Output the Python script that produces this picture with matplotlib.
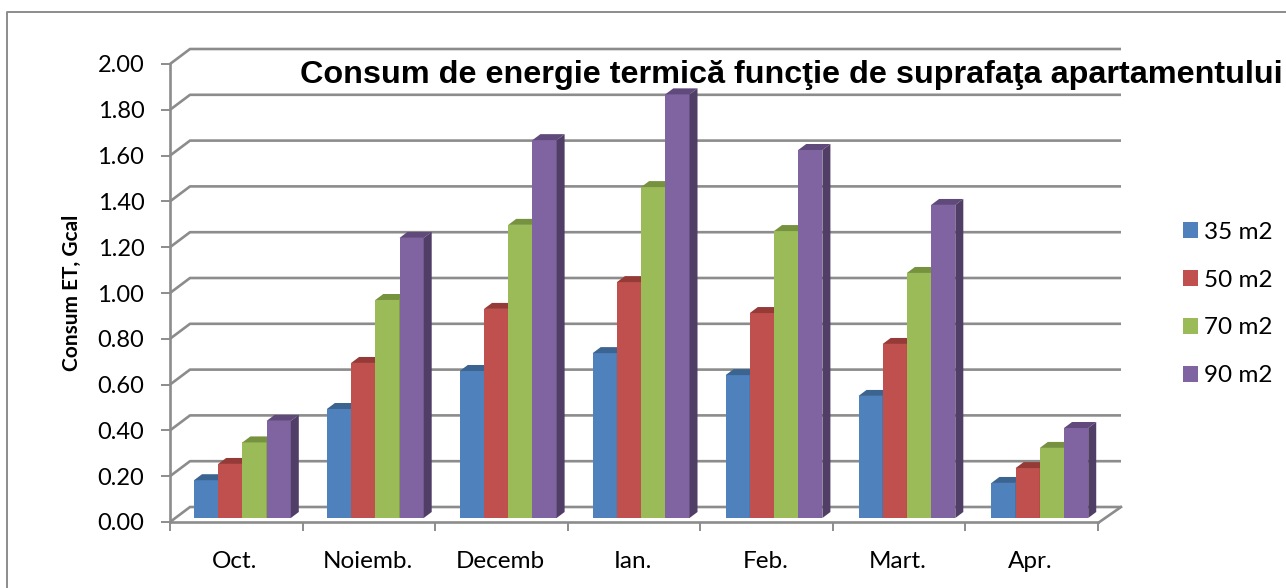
import numpy as np
import matplotlib
matplotlib.use("Agg")
import matplotlib.pyplot as plt
from matplotlib.patches import Patch
from matplotlib.lines import Line2D

# luni si consum pe suprafata
luni = ["Oct.", "Noiemb.", "Decemb", "Ian.", "Feb.", "Mart.", "Apr."]
serii = ["35 m2", "50 m2", "70 m2", "90 m2"]
consum_35 = [0.165, 0.476, 0.642, 0.72, 0.624, 0.533, 0.153]
consum_50 = [0.236, 0.677, 0.913, 1.03, 0.895, 0.76, 0.218]
consum_70 = [0.33, 0.952, 1.28, 1.445, 1.253, 1.07, 0.306]
consum_90 = [0.424, 1.223, 1.65, 1.85, 1.607, 1.367, 0.393]
valori_y = [0.0, 0.2, 0.4, 0.6, 0.8, 1.0, 1.2, 1.4, 1.6, 1.8, 2.0]

culori = ["#4F81BD", "#C0504D", "#9BBB59", "#8064A2"]
culori_sus = ["#3C6491", "#953A37", "#76923F", "#604A7B"]
culori_lat = ["#355A85", "#853330", "#6A8338", "#503E66"]
gri = "#8C8C8C"

W, H = 1286, 588
fig = plt.figure(figsize=(W / 100, H / 100), dpi=100)
fig.patch.set_facecolor("white")
plt.rcParams["font.family"] = ["Lato", "DejaVu Sans"]

# axa din fata: x 170-1098 px, y 522-64 px
ax = fig.add_axes([170 / W, (H - 522) / H, 928 / W, 458 / H])
ax.set_xlim(0, 7)
ax.set_ylim(0, 2)
px_x = 7 / 928
px_y = 2 / 458

# peretele din spate si podeaua
adanc_x = 20 * px_x
adanc_x2 = 23 * px_x
adanc_y = 15 * px_y
for v in valori_y:
    ax.plot([0, adanc_x, 7 + adanc_x2], [v, v + adanc_y, v + adanc_y],
            color=gri, lw=1.9, clip_on=False, zorder=1, solid_capstyle="butt")
ax.plot([7, 7 + adanc_x2], [-1 * px_y, adanc_y], color=gri, lw=1.9, clip_on=False, zorder=1)

# barele
pas = 1.0025
start = 24 * px_x
lat = 24.2 * px_x
baza = 4 * px_y
dx = 8 * px_x
dy = 6 * px_y
x = np.arange(len(luni)) * pas + start
for i, val in enumerate([consum_35, consum_50, consum_70, consum_90]):
    xs = x + i * lat
    ax.bar(xs, val, width=lat, bottom=baza, align="edge", color=culori[i], zorder=3 + i, clip_on=False)
    for x0, v in zip(xs, val):
        y1 = baza + v
        ax.fill([x0, x0 + dx, x0 + lat + dx, x0 + lat], [y1, y1 + dy, y1 + dy, y1],
                color=culori_sus[i], lw=0, zorder=3 + i, clip_on=False)
        ax.fill([x0 + lat, x0 + lat + dx, x0 + lat + dx, x0 + lat], [baza, baza + dy, y1 + dy, y1],
                color=culori_lat[i], lw=0, zorder=3 + i, clip_on=False)

for s in ["top", "right"]:
    ax.spines[s].set_visible(False)
for s in ["left", "bottom"]:
    ax.spines[s].set_color(gri)
    ax.spines[s].set_linewidth(1.9)
    ax.spines[s].set_zorder(2)

ax.set_yticks(valori_y)
ax.set_yticklabels(["%.2f" % v for v in valori_y], fontsize=17)
ax.tick_params(axis="y", length=6.5, width=1.4, color=gri, pad=12)
ax.set_xticks(np.arange(7) + 0.49)
ax.set_xticklabels(luni, fontsize=17.5)
ax.set_xticks(np.arange(8), minor=True)
ax.tick_params(axis="x", which="major", length=0, pad=21)
ax.tick_params(axis="x", which="minor", length=6.5, width=1.4, color=gri)

fig.text(72 / W, 1 - 293 / H, "Consum ET, Gcal", rotation=90, fontsize=15, fontweight="bold",
         ha="center", va="center")
fig.text(791.5 / W, 1 - 83 / H, "Consum de energie termică funcţie de suprafaţa apartamentului",
         fontsize=23.35, fontweight="bold", family="Liberation Sans", ha="center", va="baseline", zorder=20)

# legenda
maner = [Patch(facecolor=c, edgecolor="none") for c in culori]
fig.legend(maner, serii, loc="center left", bbox_to_anchor=(1161 / W, 1 - 304 / H), frameon=False,
           fontsize=17.5, handlelength=0.62, handleheight=0.62, handletextpad=0.25, labelspacing=1.11)

# chenarul: doar sus si stanga
fig.add_artist(Line2D([6.5 / W, 6.5 / W, 1], [0, 1 - 12 / H, 1 - 12 / H], color=gri, lw=1.4))

fig.savefig("out.png", dpi=100)
